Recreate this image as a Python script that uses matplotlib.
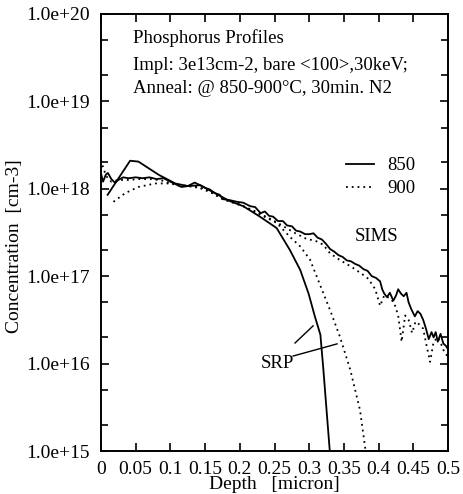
import numpy as np
import matplotlib
matplotlib.use("Agg")
import matplotlib.pyplot as plt
from matplotlib.lines import Line2D
from matplotlib.ticker import LogLocator, NullFormatter

plt.rcParams['font.family'] = ['Liberation Serif', 'DejaVu Serif']

# depth [micron] and log10(concentration [cm-3])
sims850_x = [0, 0.003, 0.007, 0.010, 0.015, 0.020, 0.025, 0.032, 0.040, 0.050, 0.060, 0.070,
             0.080, 0.090, 0.100, 0.108, 0.116, 0.125, 0.135, 0.143, 0.150, 0.157, 0.164,
             0.171, 0.176, 0.185, 0.196, 0.205, 0.215, 0.222, 0.230, 0.236, 0.242, 0.248,
             0.255, 0.262, 0.268, 0.275, 0.281, 0.287, 0.294, 0.300, 0.306, 0.312, 0.318,
             0.324, 0.330, 0.336, 0.342, 0.348, 0.354, 0.360, 0.366, 0.372, 0.378, 0.384,
             0.390, 0.396, 0.402, 0.405, 0.408, 0.412, 0.416, 0.421, 0.425, 0.428, 0.432,
             0.436, 0.440, 0.443, 0.447, 0.452, 0.456, 0.460, 0.464, 0.468, 0.472, 0.476,
             0.479, 0.482, 0.485, 0.489, 0.493, 0.497, 0.500]
sims850_log = [18.18, 18.08, 18.16, 18.18, 18.11, 18.07, 18.10, 18.13, 18.12, 18.13, 18.12, 18.13,
               18.11, 18.12, 18.08, 18.05, 18.02, 18.03, 18.07, 18.04, 18.01, 17.99, 17.95,
               17.93, 17.88, 17.87, 17.85, 17.84, 17.80, 17.79, 17.72, 17.74, 17.69, 17.68,
               17.63, 17.63, 17.58, 17.57, 17.52, 17.51, 17.48, 17.48, 17.49, 17.44, 17.42,
               17.37, 17.31, 17.28, 17.24, 17.22, 17.18, 17.17, 17.14, 17.12, 17.08, 17.06,
               17.00, 16.98, 16.94, 16.85, 16.80, 16.76, 16.81, 16.72, 16.78, 16.85, 16.80,
               16.77, 16.81, 16.70, 16.62, 16.54, 16.60, 16.57, 16.50, 16.40, 16.28, 16.36,
               16.30, 16.36, 16.25, 16.34, 16.23, 16.20, 16.16]

sims900_x = [0, 0.004, 0.008, 0.015, 0.025, 0.040, 0.055, 0.073, 0.090, 0.100, 0.115, 0.130,
             0.145, 0.160, 0.175, 0.190, 0.205, 0.220, 0.235, 0.250, 0.265, 0.280, 0.295,
             0.310, 0.320, 0.330, 0.345, 0.360, 0.375, 0.385, 0.395, 0.402, 0.408, 0.415,
             0.422, 0.428, 0.433, 0.438, 0.443, 0.448, 0.453, 0.458, 0.464, 0.469, 0.474,
             0.479, 0.485, 0.490, 0.495, 0.500]
sims900_log = [18.33, 18.22, 18.14, 18.08, 18.10, 18.10, 18.11, 18.11, 18.09, 18.06, 18.03, 18.04,
               18.00, 17.95, 17.88, 17.84, 17.80, 17.75, 17.69, 17.63, 17.56, 17.49, 17.43,
               17.40, 17.36, 17.26, 17.18, 17.11, 17.03, 16.97, 16.85, 16.66, 16.78, 16.75,
               16.70, 16.55, 16.25, 16.55, 16.50, 16.35, 16.48, 16.45, 16.40, 16.20, 16.02,
               16.25, 16.30, 16.22, 16.12, 16.08]

srp850_x = [0.0096, 0.042, 0.054, 0.083, 0.107, 0.125, 0.143, 0.164, 0.185, 0.205, 0.229,
            0.253, 0.272, 0.287, 0.299, 0.308, 0.316, 0.320, 0.330]
srp850_log = [17.93, 18.32, 18.31, 18.16, 18.06, 18.03, 18.04, 17.95, 17.86, 17.80, 17.68,
              17.55, 17.30, 17.07, 16.80, 16.54, 16.33, 15.96, 14.95]

srp900_x = [0.018, 0.035, 0.054, 0.078, 0.100, 0.125, 0.150, 0.175, 0.200, 0.225, 0.253,
            0.272, 0.287, 0.301, 0.311, 0.330, 0.344, 0.359, 0.373, 0.382]
srp900_log = [17.85, 17.95, 18.02, 18.06, 18.06, 18.03, 18.00, 17.89, 17.82, 17.72, 17.61,
              17.45, 17.34, 17.19, 16.99, 16.61, 16.31, 15.93, 15.47, 14.95]

x_ticks = [0, 0.05, 0.1, 0.15, 0.2, 0.25, 0.3, 0.35, 0.4, 0.45, 0.5]
x_ticklabels = ['0', '0.05', '0.1', '0.15', '0.2', '0.25', '0.3', '0.35', '0.4', '0.45', '0.5']
y_ticks = [1e15, 1e16, 1e17, 1e18, 1e19, 1e20]
y_ticklabels = ['1.0e+15', '1.0e+16', '1.0e+17', '1.0e+18', '1.0e+19', '1.0e+20']

fig = plt.figure(figsize=(4.63, 4.94), dpi=100)
ax = fig.add_axes([0.218, 0.087, 0.750, 0.885])

dots = (0, (1, 2.2))
lw = 1.3
ax.plot(sims850_x, np.power(10.0, sims850_log), color='black', lw=lw)
ax.plot(sims900_x, np.power(10.0, sims900_log), color='black', lw=lw, linestyle=dots)
ax.plot(srp850_x, np.power(10.0, srp850_log), color='black', lw=lw)
ax.plot(srp900_x, np.power(10.0, srp900_log), color='black', lw=lw, linestyle=dots)

ax.set_yscale('log')
ax.set_xlim(0, 0.5)
ax.set_ylim(1e15, 1e20)

ax.set_xticks(x_ticks)
ax.set_xticklabels(x_ticklabels)
ax.set_yticks(y_ticks)
ax.set_yticklabels(y_ticklabels)
ax.yaxis.set_minor_locator(LogLocator(base=10, subs=(2.0, 5.0)))
ax.yaxis.set_minor_formatter(NullFormatter())
ax.tick_params(which='both', direction='in', top=True, right=True, width=1.2)
ax.tick_params(which='major', length=6, labelsize=14)
ax.tick_params(axis='x', which='major', pad=7)
ax.tick_params(axis='y', which='major', pad=8)
ax.tick_params(which='minor', length=5)
for s in ax.spines.values():
    s.set_linewidth(1.4)

ax.set_xlabel('Depth   [micron]', fontsize=14, labelpad=-1)
ax.set_ylabel('Concentration  [cm-3]', fontsize=14)
ax.yaxis.set_label_coords(-0.225, 0.469)

# header text
ax.text(0.092, 0.934, 'Phosphorus Profiles', transform=ax.transAxes, fontsize=13.5, va='baseline')
ax.text(0.092, 0.872, 'Impl: 3e13cm-2, bare <100>,30keV;', transform=ax.transAxes, fontsize=13.5,
        va='baseline')
ax.text(0.092, 0.819, 'Anneal: @ 850-900°C, 30min. N2', transform=ax.transAxes, fontsize=13.5,
        va='baseline')

# legend
handles = [Line2D([], [], color='black', lw=lw), Line2D([], [], color='black', lw=lw, linestyle=dots)]
ax.legend(handles, ['850', '900'], loc='upper left', bbox_to_anchor=(0.705, 0.672), frameon=False,
          fontsize=13.5, handlelength=1.5, handletextpad=0.7, labelspacing=0.32, borderpad=0,
          borderaxespad=0)

ax.text(0.397, 10 ** 17.45, 'SIMS', fontsize=13.5, ha='center', va='center')
ax.text(0.2536, 1.0e16, 'SRP', fontsize=13.5, ha='center', va='center')
ax.plot([0.2795, 0.3055], [1.72e16, 2.7e16], color='black', lw=1.0)
ax.plot([0.2767, 0.340], [1.22e16, 1.68e16], color='black', lw=1.0)

fig.savefig('out.png', dpi=100)
